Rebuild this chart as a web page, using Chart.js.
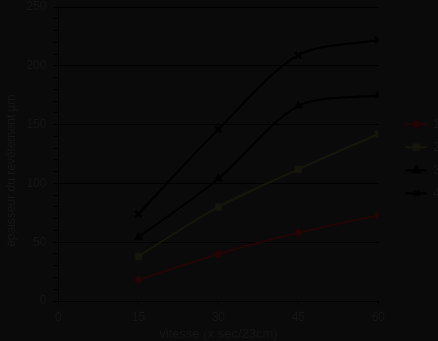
<!DOCTYPE html>
<html>
<head>
<meta charset="utf-8">
<script src="https://cdn.jsdelivr.net/npm/chart.js@4.4.1/dist/chart.umd.min.js"></script>
<style>
  html, body { margin: 0; padding: 0; background: #0a0a0a; }
  #wrap { width: 438px; height: 341px; }
</style>
</head>
<body>
<div id="wrap"><canvas id="c" width="438" height="341"></canvas></div>
<script>
const speeds = [15, 30, 45, 60];
const seriesNames = ["1", "2", "3", "4"];
const series1 = [18, 40, 58, 73];
const series2 = [38, 80, 112, 142];
const series3 = [54, 104, 166, 175];
const series4 = [74, 146, 209, 222];
const xTicks = [0, 15, 30, 45, 60];
const yTicks = [0, 50, 100, 150, 200, 250];

const textColor = '#161616';
const colors = ['#220505', '#16160c', '#000000', '#000000'];
const styles = ['rectRot', 'rect', 'triangle', 'crossRot'];
const allSeries = [series1, series2, series3, series4];
const ICON_W = 38;

function legendIcon(color, style) {
  const cv = document.createElement('canvas');
  cv.width = ICON_W; cv.height = 10;
  const g = cv.getContext('2d');
  g.strokeStyle = color; g.fillStyle = color; g.lineWidth = 2;
  g.beginPath(); g.moveTo(ICON_W - 22, 5); g.lineTo(ICON_W, 5); g.stroke();
  Chart.helpers.drawPoint(g, {pointStyle: style, radius: 4, borderWidth: 2}, ICON_W - 11, 5);
  return cv;
}

const datasets = allSeries.map((vals, i) => ({
  label: seriesNames[i],
  data: speeds.map((s, k) => ({x: s, y: vals[k]})),
  borderColor: colors[i],
  backgroundColor: colors[i],
  borderWidth: 2,
  pointStyle: styles[i],
  pointRadius: 4.5,
  pointBorderWidth: i === 3 ? 2.5 : 1,
  tension: 0.3
}));

new Chart(document.getElementById('c'), {
  type: 'line',
  data: { datasets },
  options: {
    responsive: false,
    animation: false,
    layout: { padding: { top: 0, left: 4, right: -12, bottom: -1 } },
    plugins: {
      tooltip: { enabled: false },
      legend: {
        position: 'right',
        fullSize: false,
        title: { display: true, text: ' ', font: { size: 8 }, padding: 0 },
        labels: {
          color: textColor,
          font: { family: 'Liberation Sans', size: 12 },
          usePointStyle: true,
          pointStyleWidth: ICON_W,
          padding: 11,
          generateLabels: (chart) => chart.data.datasets.map((d, i) => ({
            text: d.label,
            fontColor: textColor,
            pointStyle: legendIcon(colors[i], styles[i]),
            datasetIndex: i,
            hidden: false,
            lineWidth: 0
          }))
        }
      }
    },
    scales: {
      x: {
        type: 'linear',
        min: 0, max: 60,
        afterBuildTicks: (axis) => { axis.ticks = xTicks.map(v => ({value: v})); },
        ticks: { color: textColor, font: { family: 'Liberation Sans', size: 12 }, padding: 5 },
        grid: { display: true, drawOnChartArea: false, color: '#000', tickLength: 4 },
        border: { color: '#000', width: 1 },
        title: { display: true, text: 'vitesse (x sec/23cm)', color: textColor,
                 font: { family: 'Liberation Sans', size: 13 }, padding: { top: -3, bottom: 0 } }
      },
      y: {
        min: 0, max: 250,
        afterFit: (s) => { s.paddingTop = 7; },
        ticks: {
          stepSize: 10, autoSkip: false, color: textColor, padding: 7,
          font: { family: 'Liberation Sans', size: 12 },
          callback: (v) => yTicks.includes(v) ? String(v) : ''
        },
        grid: {
          color: (ctx) => (ctx.tick && yTicks.includes(ctx.tick.value)) ? '#000' : 'rgba(0,0,0,0)',
          tickColor: '#000',
          tickLength: 5
        },
        border: { color: '#000', width: 1 },
        title: { display: true, text: 'épaisseur du revêtement µm' + '\u00a0'.repeat(10), color: textColor,
                 font: { family: 'Liberation Sans', size: 12 }, padding: { top: 0, bottom: 1 } }
      }
    }
  }
});
</script>
</body>
</html>
